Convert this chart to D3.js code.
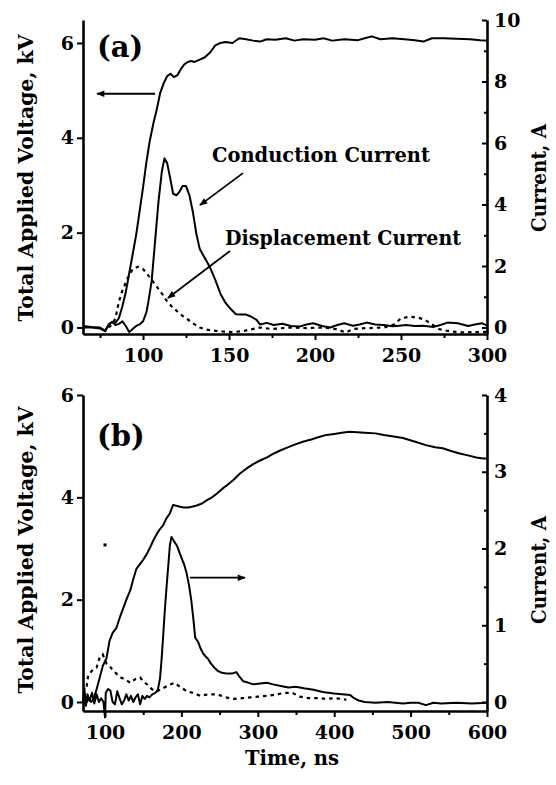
<!DOCTYPE html>
<html>
<head>
<meta charset="utf-8">
<script src="https://cdn.jsdelivr.net/npm/d3@7/dist/d3.min.js"></script>
<style>
  html, body { margin: 0; padding: 0; background: #fff; }
  svg { display: block; }
  text { font-family: "DejaVu Serif", "Liberation Serif", serif; font-weight: bold; fill: #000; }
</style>
</head>
<body>
<svg id="chart" width="556" height="785"></svg>
<script>
// ---------------- DATA ----------------
// Panel (a): time (ns) vs voltage (kV) / current (A)
const voltageA = [[65,0.0],[70,0.0],[75,-0.02],[78,-0.08],[80,0.05],[82,0.12],[84,0.1],[86,0.2],[88,0.45],[90,0.75],[92,1.15],[94,1.55],[96,1.95],[98,2.45],[100,2.95],[102,3.5],[104,3.95],[106,4.3],[108,4.6],[110,4.95],[112,5.15],[114,5.3],[116,5.35],[118,5.28],[120,5.32],[122,5.45],[124,5.55],[126,5.6],[128,5.62],[130,5.6],[133,5.65],[136,5.7],[139,5.8],[142,5.95],[145,6.0],[148,6.02],[152,6.0],[156,6.1],[160,6.08],[164,6.05],[168,6.03],[172,6.08],[177,6.07],[183,6.1],[188,6.05],[193,6.08],[200,6.07],[205,6.1],[210,6.05],[217,6.08],[225,6.06],[230,6.11],[233,6.14],[238,6.08],[245,6.1],[252,6.08],[258,6.06],[263,6.03],[268,6.1],[275,6.1],[282,6.09],[290,6.08],[296,6.06],[300,6.05]];
const conductionA = [[65,0.05],[70,0.02],[75,0.0],[78,-0.1],[80,0.1],[82,0.18],[84,0.08],[86,0.12],[88,0.2],[90,0.05],[92,-0.15],[94,-0.05],[96,0.05],[98,0.1],[100,0.2],[102,0.5],[103,0.8],[105,1.5],[107,2.8],[109,4.1],[111,5.1],[112.5,5.5],[114,5.35],[116,4.8],[117.5,4.35],[119.5,4.3],[121,4.4],[123,4.6],[125,4.6],[127,4.3],[129,3.75],[131,3.05],[133,2.55],[136,2.25],[139,1.95],[142,1.55],[145,1.1],[148,0.8],[151,0.6],[154,0.43],[157,0.42],[160,0.42],[163,0.35],[166,0.25],[168,0.1],[172,0.15],[176,0.08],[181,0.12],[186,0.05],[191,0.03],[195,0.1],[199,0.14],[204,0.05],[209,0.0],[213,0.08],[217,0.14],[222,0.06],[226,0.1],[230,0.16],[235,0.1],[240,0.08],[245,0.04],[249,0.06],[253,0.08],[258,0.05],[263,0.06],[269,0.02],[273,0.08],[277,0.16],[283,0.14],[289,0.05],[293,0.1],[297,0.14],[300,0.06]];
const displacementA = [[80,0.0],[82,0.1],[84,0.3],[86,0.85],[88,1.2],[91,1.6],[94,1.9],[97,1.98],[100,1.9],[102,1.77],[105,1.55],[108,1.33],[111,1.1],[114,0.85],[117,0.67],[120,0.52],[123,0.38],[126,0.26],[130,0.1],[133,0.0],[137,-0.07],[141,-0.1],[146,-0.13],[152,-0.15],[158,-0.12],[162,-0.07],[168,0.0],[175,-0.05],[185,0.0],[195,-0.02],[205,0.0],[212,-0.05],[218,-0.16],[222,-0.05],[230,-0.02],[240,0.0],[246,0.1],[250,0.3],[255,0.35],[260,0.32],[264,0.25],[268,0.1],[272,-0.05],[278,-0.12],[285,-0.16],[292,-0.15],[300,-0.14]];

// Panel (b)
const voltageB = [[71,0.0],[74,-0.05],[78,0.05],[82,0.0],[85,0.06],[89,0.25],[93,0.47],[97,0.7],[102,0.86],[106,1.2],[110,1.35],[115,1.45],[120,1.68],[124,1.84],[128,2.0],[133,2.18],[137,2.4],[141,2.6],[146,2.7],[150,2.78],[155,2.9],[159,3.02],[164,3.18],[168,3.29],[172,3.38],[176,3.45],[180,3.58],[185,3.69],[189,3.85],[192,3.84],[197,3.82],[203,3.8],[209,3.8],[215,3.82],[220,3.84],[227,3.88],[233,3.94],[240,4.0],[247,4.08],[253,4.16],[260,4.24],[268,4.34],[277,4.47],[285,4.56],[294,4.65],[303,4.72],[312,4.78],[320,4.85],[330,4.92],[340,4.98],[350,5.04],[360,5.09],[370,5.13],[380,5.18],[390,5.22],[400,5.24],[410,5.26],[420,5.28],[430,5.27],[440,5.26],[454,5.25],[465,5.22],[478,5.19],[490,5.16],[505,5.09],[520,5.02],[532,4.98],[542,4.96],[552,4.91],[563,4.86],[575,4.82],[586,4.78],[595,4.76],[600,4.76]];
const conductionB = [[71,0.0],[73,0.18],[75,-0.05],[77,0.1],[80,0.02],[83,0.12],[86,-0.02],[89,0.1],[92,0.0],[95,0.05],[98,0.0],[100,-0.2],[101,0.12],[104,0.17],[107,0.15],[110,0.0],[113,-0.03],[116,0.14],[119,0.05],[122,-0.03],[125,0.02],[128,0.1],[131,0.02],[134,0.08],[137,0.0],[140,0.06],[143,0.1],[146,-0.03],[149,0.08],[152,0.04],[155,0.08],[158,0.06],[162,0.1],[166,0.12],[169,0.15],[172,0.31],[174,0.55],[176,0.84],[178,1.15],[180.5,1.49],[183,1.8],[185,2.05],[187,2.15],[190,2.1],[194,2.04],[200,1.88],[204,1.78],[207,1.67],[210,1.52],[213,1.32],[216,1.05],[218,0.84],[222,0.78],[225,0.7],[228,0.64],[231,0.6],[235,0.56],[238,0.51],[242,0.46],[247,0.41],[253,0.38],[260,0.37],[266,0.37],[272,0.39],[276,0.33],[281,0.27],[288,0.25],[294,0.23],[303,0.24],[312,0.25],[320,0.23],[330,0.21],[340,0.19],[350,0.2],[360,0.18],[373,0.16],[385,0.13],[400,0.11],[410,0.1],[421,0.09],[426,0.05],[432,0.02],[440,0.0],[454,-0.01],[470,0.0],[490,-0.02],[500,-0.01],[510,-0.01],[520,-0.04],[530,-0.01],[540,-0.02],[560,-0.01],[580,-0.02],[600,-0.01]];
const displacementB = [[76,0.2],[78,0.35],[80,0.37],[84,0.42],[89,0.45],[93,0.58],[97,0.62],[102,0.5],[106,0.47],[109,0.43],[114,0.38],[120,0.32],[126,0.3],[133,0.25],[140,0.3],[146,0.32],[150,0.27],[155,0.23],[160,0.18],[165,0.14],[170,0.15],[176,0.18],[183,0.22],[191,0.25],[198,0.2],[207,0.14],[215,0.12],[225,0.08],[235,0.1],[247,0.1],[258,0.06],[268,0.04],[280,0.05],[290,0.06],[300,0.07],[312,0.08],[325,0.1],[335,0.12],[345,0.12],[355,0.07],[367,0.05],[380,0.05],[390,0.04],[400,0.05],[410,0.04],[416,0.03]];
const strayPointB = [[100,3.07]]; // small isolated speck in panel (b), kV

// Tick values
const timeTicksA = [100,150,200,250,300];
const timeMinorA = [75,125,175,225,275];
const voltTicksA = [0,2,4,6];
const currTicksA = [0,2,4,6,8,10];
const currMinorA = [1,3,5,7,9];
const timeTicksB = [100,200,300,400,500,600];
const timeMinorB = [150,250,350,450,550];
const voltTicksB = [0,2,4,6];
const currTicksB = [0,1,2,3,4];
const currMinorB = [0.5,1.5,2.5,3.5];

// Labels
const panelLabels = ["(a)", "(b)"];
const voltTitle = "Total Applied Voltage, kV";
const currTitle = "Current, A";
const timeTitle = "Time, ns";
const condLabel = "Conduction Current";
const dispLabel = "Displacement Current";

// ---------------- DRAWING ----------------
const svg = d3.select("#chart");
svg.append("rect").attr("width", 556).attr("height", 785).attr("fill", "#fff");

const defs = svg.append("defs");
defs.append("marker").attr("id", "arrow")
  .attr("viewBox", "0 0 10 10").attr("refX", 9).attr("refY", 5)
  .attr("markerUnits", "userSpaceOnUse")
  .attr("markerWidth", 10).attr("markerHeight", 8).attr("orient", "auto")
  .append("path").attr("d", "M0,1 L10,5 L0,9 Z").attr("fill", "#000");

function panel(cfg) {
  const g = svg.append("g");
  const x = d3.scaleLinear().domain(cfg.xDom).range([83, 487]);
  const yV = d3.scaleLinear().domain(cfg.vDom).range([cfg.bottom, cfg.top]);
  const yI = d3.scaleLinear().domain(cfg.iDom).range([cfg.bottom, cfg.top]);

  const styleAxis = sel => {
    sel.selectAll("path.domain").attr("stroke", "#000").attr("stroke-width", 2.6);
    sel.selectAll(".tick line").attr("stroke", "#000").attr("stroke-width", 2);
    sel.selectAll(".tick text").style("font-family", '"DejaVu Serif", serif')
      .style("font-weight", "bold").style("font-size", "19px").attr("fill", "#000");
  };

  // bottom axis
  g.append("g").attr("transform", `translate(0,${cfg.bottom})`)
    .call(d3.axisBottom(x).tickValues(cfg.xMinor).tickFormat("").tickSize(4).tickSizeOuter(0))
    .call(styleAxis).select("path.domain").remove();
  g.append("g").attr("transform", `translate(0,${cfg.bottom})`)
    .call(d3.axisBottom(x).tickValues(cfg.xTicks).tickSize(6).tickSizeOuter(0).tickPadding(9).tickFormat(d3.format("d")))
    .call(styleAxis);

  // left axis
  g.append("g").attr("transform", `translate(83,0)`)
    .call(d3.axisLeft(yV).tickValues(cfg.vTicks).tickSize(6).tickSizeOuter(0).tickPadding(3).tickFormat(d3.format("d")))
    .call(styleAxis);

  // right axis (ticks pointing inward)
  g.append("g").attr("transform", `translate(487,0)`)
    .call(d3.axisRight(yI).tickValues(cfg.iMinor).tickFormat("").tickSize(-3).tickSizeOuter(0))
    .call(styleAxis).select("path.domain").remove();
  g.append("g").attr("transform", `translate(487,0)`)
    .call(d3.axisRight(yI).tickValues(cfg.iTicks).tickSize(-5).tickSizeOuter(0).tickPadding(7).tickFormat(d3.format("d")))
    .call(styleAxis);

  const lineV = d3.line().x(d => x(d[0])).y(d => yV(d[1]));
  const lineI = d3.line().x(d => x(d[0])).y(d => yI(d[1]));

  g.append("path").datum(cfg.volt).attr("d", lineV)
    .attr("fill", "none").attr("stroke", "#000").attr("stroke-width", 2).attr("stroke-linejoin", "round");
  g.append("path").datum(cfg.cond).attr("d", lineI)
    .attr("fill", "none").attr("stroke", "#000").attr("stroke-width", 2).attr("stroke-linejoin", "round");
  g.append("path").datum(cfg.disp).attr("d", lineI)
    .attr("fill", "none").attr("stroke", "#000").attr("stroke-width", 2.2)
    .attr("stroke-dasharray", "3.5,4");

  if (cfg.stray) {
    g.selectAll("rect.stray").data(cfg.stray).enter().append("rect")
      .attr("x", d => x(d[0]) - 1.5).attr("y", d => yV(d[1]) - 1.5)
      .attr("width", 3).attr("height", 3).attr("fill", "#000");
  }

  // annotation arrows (in data units)
  cfg.arrows.forEach(a => {
    const ys = a.axis === "v" ? yV : yI;
    g.append("line")
      .attr("x1", x(a.from[0])).attr("y1", ys(a.from[1]))
      .attr("x2", x(a.to[0])).attr("y2", ys(a.to[1]))
      .attr("stroke", "#000").attr("stroke-width", 1.8)
      .attr("marker-end", "url(#arrow)");
  });

  // panel letter
  g.append("text").attr("x", 97).attr("y", cfg.top + cfg.letterDy)
    .style("font-size", "29px").text(cfg.letter);

  // y titles
  g.append("text")
    .attr("transform", `translate(33,${cfg.vTitleY}) rotate(-90)`)
    .attr("text-anchor", "middle").style("font-size", "21px")
    .attr("textLength", 287).attr("lengthAdjust", "spacingAndGlyphs")
    .text(voltTitle);
  g.append("text")
    .attr("transform", `translate(546,${cfg.iTitleY}) rotate(-90)`)
    .attr("text-anchor", "middle").style("font-size", "21px")
    .attr("textLength", 108).attr("lengthAdjust", "spacingAndGlyphs")
    .text(currTitle);

  return {g, x, yV, yI};
}

const pa = panel({
  xDom: [65.1, 300], vDom: [-0.137, 6.485], iDom: [-0.211, 10],
  top: 20, bottom: 334,
  xTicks: timeTicksA, xMinor: timeMinorA, vTicks: voltTicksA,
  iTicks: currTicksA, iMinor: currMinorA,
  volt: voltageA, cond: conductionA, disp: displacementA,
  arrows: [
    {axis: "v", from: [107, 4.93], to: [73.3, 4.93]},
    {axis: "i", from: [158.1, 5.02], to: [133.1, 3.98]},
    {axis: "i", from: [150.6, 2.49], to: [114.5, 0.96]}
  ],
  letter: panelLabels[0], letterDy: 37,
  vTitleY: 178, iTitleY: 178
});

// text labels in panel (a)
pa.g.append("text").attr("x", pa.x(140.1)).attr("y", pa.yI(5.38))
  .style("font-size", "20px").attr("textLength", 218).attr("lengthAdjust", "spacingAndGlyphs")
  .text(condLabel);
pa.g.append("text").attr("x", pa.x(147.7)).attr("y", pa.yI(2.68))
  .style("font-size", "20px").attr("textLength", 236).attr("lengthAdjust", "spacingAndGlyphs")
  .text(dispLabel);

const pb = panel({
  xDom: [71.2, 600], vDom: [-0.176, 6], iDom: [-0.117, 4],
  top: 395, bottom: 711,
  xTicks: timeTicksB, xMinor: timeMinorB, vTicks: voltTicksB,
  iTicks: currTicksB, iMinor: currMinorB,
  volt: voltageB, cond: conductionB, disp: displacementB,
  stray: strayPointB,
  arrows: [
    {axis: "i", from: [211.3, 1.62], to: [283.2, 1.62]}
  ],
  letter: panelLabels[1], letterDy: 51,
  vTitleY: 550, iTitleY: 570
});

// x title
svg.append("text").attr("x", 292).attr("y", 765).attr("text-anchor", "middle")
  .style("font-size", "20px").attr("textLength", 94).attr("lengthAdjust", "spacingAndGlyphs")
  .text(timeTitle);
</script>
</body>
</html>
